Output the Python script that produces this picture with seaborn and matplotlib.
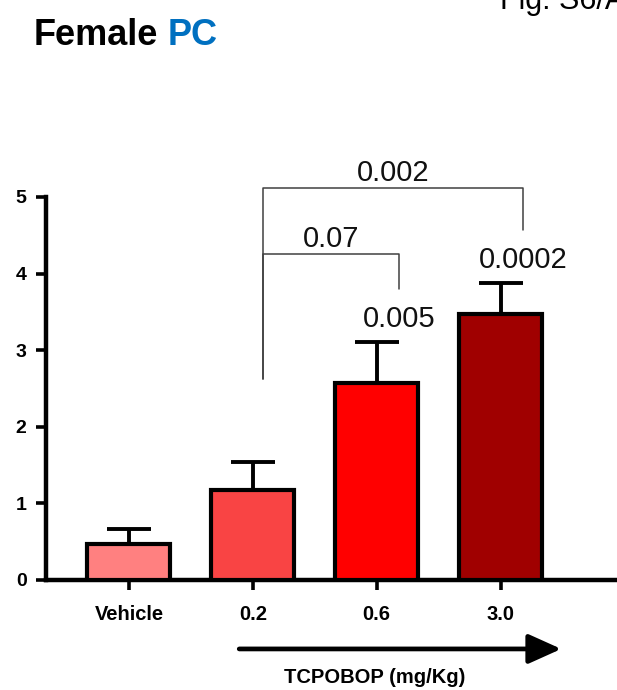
import matplotlib
matplotlib.use("Agg")
import matplotlib.pyplot as plt
import matplotlib.transforms as mtransforms
import numpy as np
import pandas as pd
import seaborn as sns

# Relative expression per treatment group (mean and SEM)
groups = ["Vehicle", "0.2", "0.6", "3.0"]
means = [0.47, 1.17, 2.57, 3.47]
sems = [0.20, 0.37, 0.54, 0.41]
bar_colors = ["#FF8080", "#F94444", "#FF0000", "#A00000"]
yticks = [0, 1, 2, 3, 4, 5]

# p-values vs Vehicle, printed over each bar
p_vs_vehicle = ["", "", "0.005", "0.0002"]
# pairwise comparisons against the 0.2 mg/Kg group: (from, to, p, bracket height)
comparisons = [(1, 2, "0.07", 4.26), (1, 3, "0.002", 5.12)]

sns.set_theme(style="white")
plt.rcParams["font.family"] = ["Liberation Sans", "DejaVu Sans"]
plt.rcParams.update({"text.color": "black", "axes.labelcolor": "black",
                     "xtick.color": "black", "ytick.color": "black"})

fig = plt.figure(figsize=(6.17, 6.90), dpi=100)
ax = fig.add_axes([46 / 617, 1 - 580 / 690, 1 - 46 / 617, 383 / 690])

df = pd.DataFrame({"group": groups, "value": means})
sns.barplot(data=df, x="group", y="value", hue="group", palette=bar_colors,
            order=groups, hue_order=groups, legend=False, errorbar=None,
            width=0.67, edgecolor="black", linewidth=3.0, saturation=1,
            ax=ax, zorder=3)

xpos = np.arange(len(groups))
ax.errorbar(xpos, means, yerr=[np.zeros(len(sems)), sems], fmt="none",
            ecolor="black", elinewidth=2.8, capsize=16, capthick=2.8, zorder=2)

ax.set_xlim(-0.67, 3.94)
ax.set_ylim(0, 5)
ax.set_yticks(yticks)
ax.set_yticklabels([str(t) for t in yticks], fontsize=14, fontweight="bold")
ax.set_xticks(xpos)
ax.set_xticklabels(groups, fontsize=14.5, fontweight="bold")
ax.set_xlabel("")
ax.set_ylabel("")

for side in ("top", "right"):
    ax.spines[side].set_visible(False)
for side in ("left", "bottom"):
    ax.spines[side].set_linewidth(3.2)
    ax.spines[side].set_color("black")
ax.tick_params(axis="y", direction="out", length=7, width=2.6, pad=7,
               left=True, colors="black")
ax.tick_params(axis="x", direction="out", length=7, width=2.6, pad=11,
               bottom=True, colors="black")

# p-values over the treated bars
p_offset = 0.18
for i, (m, s, p) in enumerate(zip(means, sems, p_vs_vehicle)):
    if p:
        ax.text(i + p_offset, m + s + 0.19, p, ha="center", va="baseline",
                fontsize=21, color="#111111", clip_on=False)

# comparison brackets
left_leg_bottom = 2.62
for a, b, p, h in comparisons:
    xa, xb = a + 0.08, b + p_offset
    leg_bottom = means[b] + sems[b] + 0.19 + 0.5
    ax.plot([xa, xa, xb, xb], [left_leg_bottom, h, h, leg_bottom],
            color="#404040", lw=1.1, clip_on=False, zorder=1)
    ax.text((xa + xb) / 2, h + 0.09, p, ha="center", va="baseline",
            fontsize=21, color="#111111", clip_on=False)

# dose arrow and axis caption
trans = mtransforms.blended_transform_factory(ax.transData, ax.transAxes)
ax.annotate("", xy=(3.49, -0.180), xytext=(0.89, -0.180),
            xycoords=trans, textcoords=trans,
            arrowprops=dict(arrowstyle="-|>,head_length=1.0,head_width=0.45",
                            mutation_scale=20, lw=3.4, color="black",
                            shrinkA=0, shrinkB=0),
            annotation_clip=False)
ax.text(1.98, -0.255, "TCPOBOP (mg/Kg)", transform=trans, ha="center",
        va="center", fontsize=14.5, fontweight="bold", color="black",
        clip_on=False)

# title
t1 = fig.text(34 / 617, 1 - 45 / 690, "Female", fontsize=26, fontweight="bold",
              color="black", ha="left", va="baseline")
fig.canvas.draw()
ax.annotate("PC", xy=(1, 0), xycoords=t1, xytext=(7, 0),
            textcoords="offset points", fontsize=26, fontweight="bold",
            color="#0070C0", ha="left", va="bottom",
            annotation_clip=False)

# figure panel tag along the upper edge
fig.text(500 / 617, 1 - 9 / 690, "Fig. S6/A", fontsize=22, color="black",
         ha="left", va="baseline")

fig.savefig("out.png", dpi=100)
